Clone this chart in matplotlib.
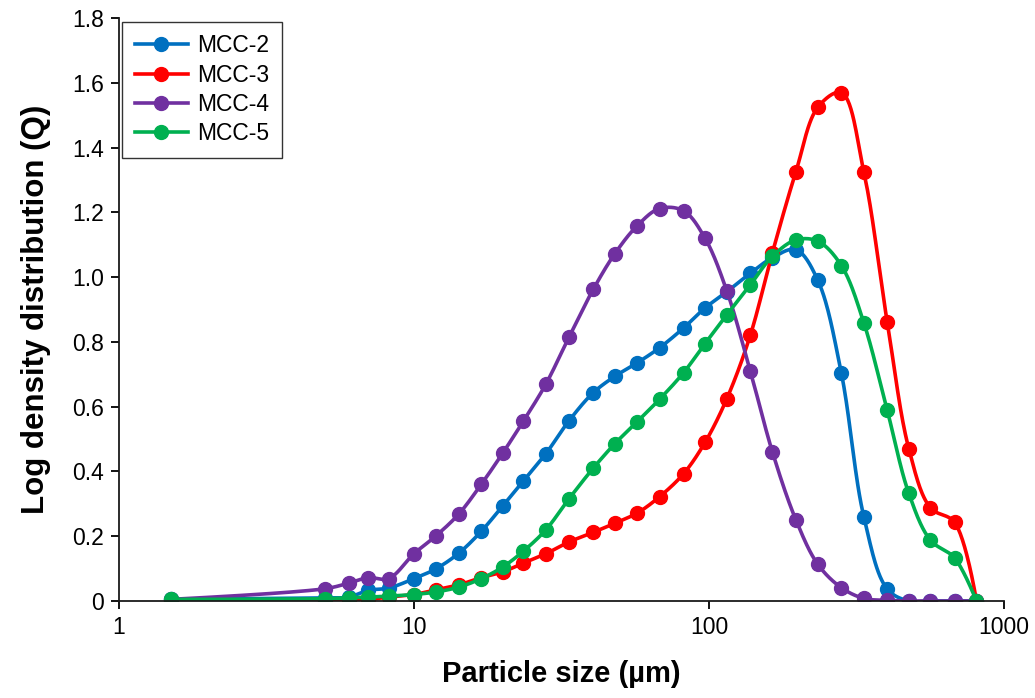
import numpy as np
import matplotlib
matplotlib.use("Agg")
import matplotlib.pyplot as plt
from matplotlib.lines import Line2D
from matplotlib.ticker import FuncFormatter, FixedLocator, NullLocator

plt.rcParams["font.family"] = ["Liberation Sans", "DejaVu Sans"]

# particle size classes (um)
size = [1.5, 5, 6, 7, 8.2, 10, 11.9, 14.2, 16.9, 20, 23.5, 28, 33.5, 40.5, 48,
        57, 68, 82, 97, 115, 138, 164, 197, 234, 281, 335, 402, 476, 563, 680, 807]

mcc2 = [0.005, 0.01, 0.012, 0.033, 0.040, 0.069, 0.100, 0.148, 0.215, 0.294, 0.371,
        0.455, 0.556, 0.643, 0.694, 0.735, 0.782, 0.843, 0.905, 0.955, 1.012, 1.060,
        1.085, 0.990, 0.704, 0.260, 0.037, 0.0, 0.0, 0.0, 0.0]
mcc3 = [0.0, 0.0, 0.002, 0.005, 0.012, 0.020, 0.035, 0.050, 0.072, 0.090, 0.117,
        0.146, 0.182, 0.212, 0.240, 0.271, 0.322, 0.393, 0.490, 0.625, 0.820, 1.075,
        1.325, 1.525, 1.570, 1.325, 0.862, 0.470, 0.288, 0.243, 0.0]
mcc4 = [0.005, 0.038, 0.055, 0.072, 0.069, 0.146, 0.202, 0.269, 0.360, 0.457, 0.556,
        0.670, 0.814, 0.962, 1.073, 1.158, 1.212, 1.205, 1.120, 0.957, 0.711, 0.461,
        0.251, 0.113, 0.041, 0.008, 0.002, 0.0, 0.0, 0.0, 0.0]
mcc5 = [0.005, 0.007, 0.010, 0.012, 0.015, 0.020, 0.028, 0.043, 0.069, 0.105, 0.154,
        0.220, 0.315, 0.410, 0.486, 0.553, 0.623, 0.705, 0.795, 0.884, 0.976, 1.064,
        1.115, 1.111, 1.036, 0.859, 0.589, 0.332, 0.188, 0.133, 0.0]

labels = ["MCC-2", "MCC-3", "MCC-4", "MCC-5"]
colors = ["#0070C0", "#FF0000", "#7030A0", "#00B050"]


def smooth(xs, ys, n=30):
    # centripetal Catmull-Rom through the points, in (log x, y) screen-like space
    p = np.column_stack([np.log10(xs) * 295.0, np.asarray(ys) * 325.0])
    p = np.vstack([p[0], p, p[-1]])
    out = []
    for i in range(1, len(p) - 2):
        p0, p1, p2, p3 = p[i - 1], p[i], p[i + 1], p[i + 2]
        def tj(ti, a, b):
            d = np.hypot(*(b - a)) ** 0.5
            return ti + max(d, 1e-6)
        t0 = 0.0
        t1 = tj(t0, p0, p1)
        t2 = tj(t1, p1, p2)
        t3 = tj(t2, p2, p3)
        t = np.linspace(t1, t2, n)[:, None]
        a1 = (t1 - t) / (t1 - t0) * p0 + (t - t0) / (t1 - t0) * p1
        a2 = (t2 - t) / (t2 - t1) * p1 + (t - t1) / (t2 - t1) * p2
        a3 = (t3 - t) / (t3 - t2) * p2 + (t - t2) / (t3 - t2) * p3
        b1 = (t2 - t) / (t2 - t0) * a1 + (t - t0) / (t2 - t0) * a2
        b2 = (t3 - t) / (t3 - t1) * a2 + (t - t1) / (t3 - t1) * a3
        c = (t2 - t) / (t2 - t1) * b1 + (t - t1) / (t2 - t1) * b2
        out.append(c)
    c = np.vstack(out)
    return 10 ** (c[:, 0] / 295.0), c[:, 1] / 325.0


fig = plt.figure(figsize=(10.35, 6.98), dpi=100)
ax = fig.add_axes([0.115, 0.139, 0.855, 0.835])

for ys, col in zip([mcc2, mcc3, mcc4, mcc5], colors):
    sx, sy = smooth(size, ys)
    ax.plot(sx, sy, color=col, lw=2.6, solid_capstyle="round")
    ax.plot(size, ys, ls="none", marker="o", ms=10, color=col, mec=col)

ax.set_xscale("log")
ax.set_xlim(1, 1000)
ax.set_ylim(0, 1.8)
ax.xaxis.set_major_locator(FixedLocator([1, 10, 100, 1000]))
ax.xaxis.set_minor_locator(NullLocator())
ax.xaxis.set_major_formatter(FuncFormatter(lambda v, p: f"{v:g}"))
ax.set_yticks(np.arange(0, 1.81, 0.2))
ax.yaxis.set_major_formatter(FuncFormatter(lambda v, p: "0" if abs(v) < 1e-9 else f"{v:.1f}"))

for s in ["top", "right"]:
    ax.spines[s].set_visible(False)
for s in ["left", "bottom"]:
    ax.spines[s].set_linewidth(1.3)
    ax.spines[s].set_color("#1a1a1a")
ax.tick_params(axis="both", direction="out", length=6, width=1.3, labelsize=16.5, pad=5)

ax.set_xlabel("Particle size (\u00b5m)", fontsize=21, fontweight="bold", labelpad=15)
ax.set_ylabel("Log density distribution (Q)", fontsize=22.5, fontweight="bold", labelpad=15)

handles = [Line2D([], [], color=c, lw=2.6, marker="o", ms=10) for c in colors]
leg = ax.legend(handles, labels, loc="upper left", bbox_to_anchor=(0.0, 1.0),
                fontsize=16.5, frameon=True, fancybox=False, edgecolor="black",
                handlelength=2.3, borderpad=0.55, labelspacing=0.28, handletextpad=0.4,
                borderaxespad=0.15)
leg.get_frame().set_linewidth(1.0)

fig.savefig("out.png", dpi=100)
